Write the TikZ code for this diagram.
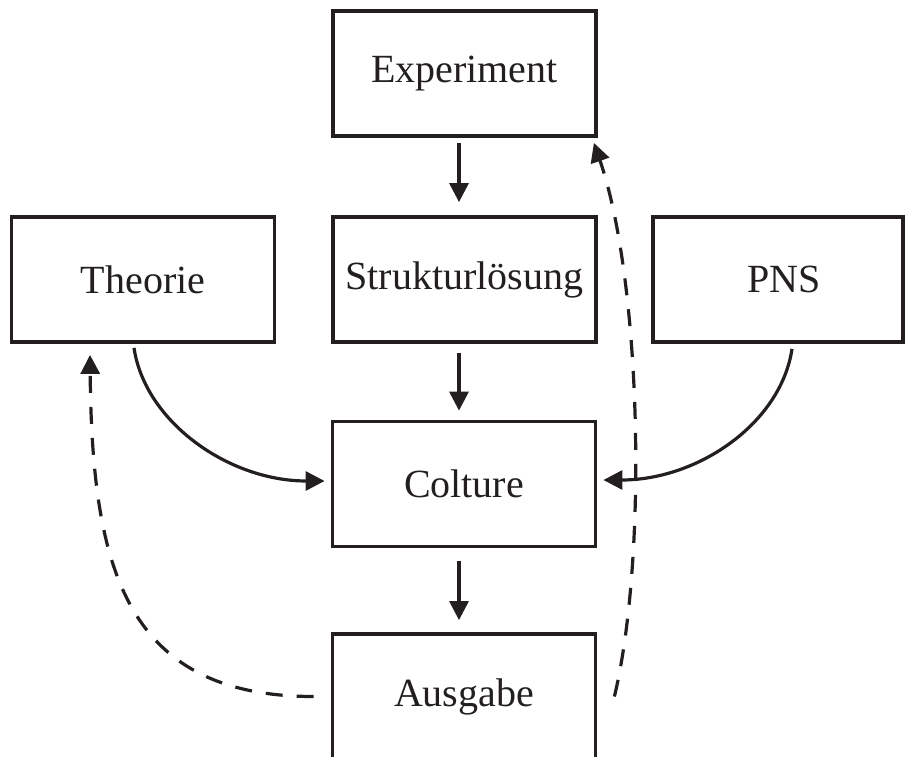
\documentclass[tikz,border=0pt]{standalone}
\usepackage{fontspec}
\setmainfont{Liberation Serif}
\usetikzlibrary{arrows.meta}
\definecolor{ink}{RGB}{35,31,32}
\begin{document}
\begin{tikzpicture}[x=1pt,y=-1pt,
  box/.style={draw=ink, line width=3.8pt, minimum width=263pt, minimum height=125pt, inner sep=0pt, font=\fontsize{40}{48}\selectfont, text=ink},
  arr/.style={draw=ink, line width=3.2pt, -{Triangle[length=19pt,width=19pt]}},
  darr/.style={arr, dash pattern=on 17pt off 14pt}]
\useasboundingbox (0,0) rectangle (905,757);
\clip (0,0) rectangle (905,757);
\node[box] (exp) at (464.5,73.5) {Experiment};
\node[box] (struk) at (464.5,279.5) {Strukturlösung};
\node[box] (theo) at (143,279.5) {Theorie};
\node[box, minimum width=250pt] (pns) at (778,279.5) {\hspace*{12pt}PNS};
\node[box] (col) at (464,484) {Colture};
\node[box] (ausg) at (464,696.5) {Ausgabe};
% straight arrows
\draw[arr] ([xshift=-5.5pt,yshift=-5pt]exp.south) -- ([xshift=-5.5pt,yshift=13pt]struk.north);
\draw[arr] ([xshift=-5.5pt,yshift=-9pt]struk.south) -- ([xshift=-5pt,yshift=9pt]col.north);
\draw[arr] ([xshift=-5pt,yshift=-13pt]col.south) -- ([xshift=-5pt,yshift=12pt]ausg.north);
% curved arrows
\draw[arr] ([xshift=-9pt,yshift=-4pt]theo.south) .. controls +(11,74) and +(-96,0) .. ([xshift=-6pt,yshift=3pt]col.west);
\draw[arr] ([xshift=14pt,yshift=-5pt]pns.south) .. controls +(-11,74) and +(95,0) .. ([xshift=6pt,yshift=4pt]col.east);
% dashed feedback arrows
\coordinate (dl) at ([xshift=-17pt]ausg.west);
\coordinate (dr) at ([xshift=17pt]ausg.east);
\draw[darr] (dl) .. controls +(-190,0) and +(2,210) .. ([xshift=-53pt,yshift=-11pt]theo.south);
\draw[darr] (dr) .. controls +(33,-138) and +(48,139) .. ([xshift=-4pt,yshift=-5pt]exp.south east);
\end{tikzpicture}
\end{document}
